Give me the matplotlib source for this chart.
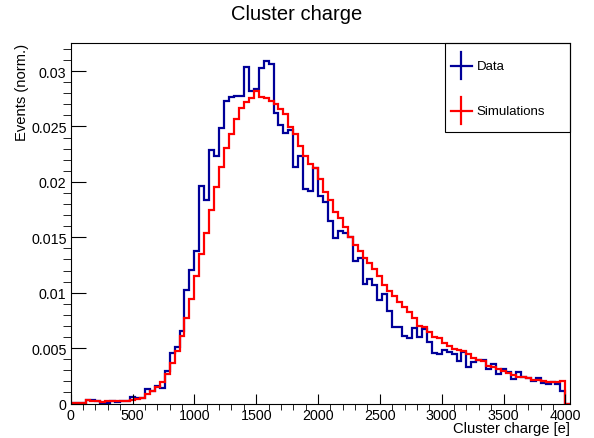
import numpy as np
import matplotlib
matplotlib.use("Agg")
import matplotlib.pyplot as plt
from matplotlib.lines import Line2D
from matplotlib.patches import Rectangle

plt.rcParams['font.family'] = ['Liberation Sans', 'DejaVu Sans']

# 40 e bins from 0 to 4040 (last bin empty)
bin_edges = np.arange(0, 4041, 40)

data_values = [
    0.00002, 0.00003, 0.00003, 0.0003, 0.0003, 0.0002, 0.00005, 0.00005, 0.0002, 0.00015,
    0.0002, 0.0002, 0.00056, 0.0005, 0.0005, 0.0013, 0.0011, 0.0016, 0.0014, 0.0029,
    0.00453, 0.00513, 0.00651, 0.01027, 0.01208, 0.01376, 0.01966, 0.0184, 0.02291, 0.02237,
    0.0249, 0.02733, 0.02763, 0.02772, 0.02772, 0.03034, 0.02823, 0.02838, 0.03028, 0.03094,
    0.03064, 0.02619, 0.02513, 0.02438, 0.02468, 0.02137, 0.02231, 0.01936, 0.01915, 0.02125,
    0.01876, 0.01816, 0.01644, 0.01494, 0.01554, 0.01536, 0.01505, 0.01289, 0.0131, 0.01078,
    0.0112, 0.0107, 0.00934, 0.00988, 0.00838, 0.00688, 0.0069, 0.00606, 0.00591, 0.00679,
    0.00597, 0.00672, 0.00558, 0.00456, 0.00447, 0.00486, 0.00468, 0.00447, 0.00386, 0.00462,
    0.0033, 0.00377, 0.00393, 0.0039, 0.00311, 0.00356, 0.00266, 0.00311, 0.00281, 0.00221,
    0.00281, 0.00236, 0.00227, 0.00206, 0.0023, 0.00185, 0.00176, 0.0019, 0.00176, 0.00116,
    0.0,
]

sim_values = [
    0.00002, 0.00003, 0.00003, 0.00028, 0.00025, 0.0002, 0.00018, 0.0002, 0.0002, 0.0002,
    0.00022, 0.00025, 0.00035, 0.00042, 0.0005, 0.00086, 0.00115, 0.00146, 0.0019, 0.0027,
    0.00366, 0.00477, 0.00606, 0.00769, 0.00943, 0.01148, 0.01347, 0.01539, 0.01749, 0.01957,
    0.02132, 0.02303, 0.02429, 0.02568, 0.0267, 0.02724, 0.02754, 0.02823, 0.02769, 0.02754,
    0.0273, 0.02703, 0.02658, 0.0261, 0.02493, 0.02432, 0.02321, 0.02231, 0.02161, 0.02123,
    0.02026, 0.01911, 0.01839, 0.01725, 0.01671, 0.0159, 0.015, 0.0143, 0.01379, 0.0131,
    0.01265, 0.0121, 0.01148, 0.01072, 0.01018, 0.00967, 0.00913, 0.00868, 0.00823, 0.00772,
    0.00702, 0.00693, 0.00643, 0.00603, 0.00591, 0.00543, 0.00522, 0.00492, 0.00486, 0.00477,
    0.0045, 0.00408, 0.00393, 0.00381, 0.00341, 0.00332, 0.00311, 0.0029, 0.00272, 0.0026,
    0.00242, 0.00242, 0.00227, 0.00215, 0.00215, 0.002, 0.00191, 0.0019, 0.0019, 0.002,
    0.0,
]

x_ticks = [0, 500, 1000, 1500, 2000, 2500, 3000, 3500, 4000]
y_ticks = [0, 0.005, 0.01, 0.015, 0.02, 0.025, 0.03]
y_labels = ['0', '0.005', '0.01', '0.015', '0.02', '0.025', '0.03']

blue = '#000099'
red = '#ff0000'

W, H = 594, 439
fig = plt.figure(figsize=(W / 100, H / 100), dpi=100)
left, right, top, bottom = 70.7, 570.3, 44.3, 404.5
ax = fig.add_axes([left / W, 1 - bottom / H, (right - left) / W, (bottom - top) / H])

ax.stairs(data_values, bin_edges, color=blue, lw=1.6, baseline=0)
ax.stairs(sim_values, bin_edges, color=red, lw=1.6, baseline=0)

ax.set_xlim(0, 4040)
ax.set_ylim(0, 0.0325)

ax.set_xticks(x_ticks)
ax.set_xticks(np.arange(0, 4001, 100), minor=True)
ax.set_yticks(y_ticks)
ax.set_yticklabels(y_labels)
ax.set_yticks(np.arange(0, 0.0325, 0.001), minor=True)

for s in ax.spines.values():
    s.set_linewidth(0.8)
ax.tick_params(direction='in', top=False, right=False, labelsize=10.3, width=0.8)
ax.tick_params(axis='x', which='major', length=7.5, pad=3)
ax.tick_params(axis='x', which='minor', length=4)
ax.tick_params(axis='y', which='major', length=11, pad=3)
ax.tick_params(axis='y', which='minor', length=5.5)

fig.text(0.5, 1 - 15 / H, 'Cluster charge', ha='center', va='center', fontsize=14.5)
fig.text(right / W, 1 - 429 / H, 'Cluster charge [e]', ha='right', va='center', fontsize=10.6)
fig.text(22.5 / W, 1 - top / H, 'Events (norm.)', ha='center', va='top',
         rotation=90, fontsize=10.6)

# legend box, ROOT style
lx0 = (445.3 - left) / (right - left)
ly0 = (bottom - 133.3) / (bottom - top)
ax.add_patch(Rectangle((lx0, ly0), 1 - lx0, 1 - ly0, transform=ax.transAxes,
                       fill=False, lw=0.8, ec='black', clip_on=False))


def fx(px):
    return (px - left) / (right - left)


def fy(py):
    return (bottom - py) / (bottom - top)


for cy, col, label in [(66.7, blue, 'Data'), (111.7, red, 'Simulations')]:
    ax.add_line(Line2D([fx(450.5), fx(471.7)], [fy(cy), fy(cy)], color=col, lw=1.6,
                       transform=ax.transAxes, clip_on=False))
    ax.add_line(Line2D([fx(461), fx(461)], [fy(cy - 13.3), fy(cy + 13.3)], color=col, lw=1.6,
                       transform=ax.transAxes, clip_on=False))
    ax.text(fx(476.5), fy(cy), label, transform=ax.transAxes, ha='left', va='center',
            fontsize=9.5)

fig.savefig('out.png', dpi=100)
